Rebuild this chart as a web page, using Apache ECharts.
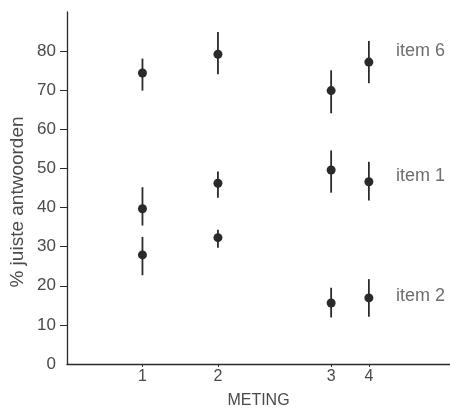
<!DOCTYPE html>
<html>
<head>
<meta charset="utf-8">
<script src="https://cdn.jsdelivr.net/npm/echarts@6/dist/echarts.min.js"></script>
<style>
  html, body { margin: 0; padding: 0; background: #fff; }
  #chart { width: 450px; height: 414px; }
</style>
</head>
<body>
<div id="chart"></div>
<script>
// measurement moments on a time-like scale, labelled 1..4
const metingX = [2, 4, 7, 8];
const metingLabels = ['1', '2', '3', '4'];
const yTicks = [0, 10, 20, 30, 40, 50, 60, 70, 80];

const item6Mean = [74.4, 79.2, 69.9, 77.2];
const item6Low = [69.9, 74.1, 64.1, 71.8];
const item6High = [78.1, 84.9, 75.1, 82.6];

const item1Mean = [39.7, 46.2, 49.6, 46.6];
const item1Low = [35.4, 42.5, 43.8, 41.8];
const item1High = [45.2, 49.2, 54.6, 51.7];

const item2Mean = [27.9, 32.3, 15.6, 16.9];
const item2Low = [22.7, 29.7, 11.9, 12.1];
const item2High = [32.5, 34.3, 19.5, 21.7];

const itemNames = ['item 6', 'item 1', 'item 2'];
const itemLabelY = [80, 48, 17.5];

const ink = '#2a2a2a';
const textColor = '#4a4a4a';
const font = 'Liberation Sans';

const chart = echarts.init(document.getElementById('chart'));

function points(mean) {
    return metingX.map((x, i) => [x, mean[i]]);
}
function bars(low, high) {
    return metingX.map((x, i) => [x, low[i], high[i]]);
}

function renderBar(params, api) {
    const top = api.coord([api.value(0), api.value(2)]);
    const bottom = api.coord([api.value(0), api.value(1)]);
    return {
        type: 'line',
        shape: { x1: top[0], y1: top[1], x2: bottom[0], y2: bottom[1] },
        style: { stroke: ink, lineWidth: 1.8 }
    };
}

const series = [];
[[item6Mean, item6Low, item6High], [item1Mean, item1Low, item1High], [item2Mean, item2Low, item2High]]
    .forEach(function (set) {
        series.push({
            type: 'custom',
            renderItem: renderBar,
            data: bars(set[1], set[2]),
            silent: true,
            z: 2
        });
        series.push({
            type: 'scatter',
            data: points(set[0]),
            symbolSize: 9,
            itemStyle: { color: ink, opacity: 1 },
            z: 3
        });
    });

// item labels sit to the right of the last measurement
series.push({
    type: 'scatter',
    data: itemNames.map((n, i) => ({ value: [8.72, itemLabelY[i]], name: n })),
    symbolSize: 0,
    label: {
        show: true,
        position: 'right',
        distance: 0,
        formatter: p => p.name,
        color: textColor,
        fontFamily: font,
        fontSize: 18
    },
    silent: true
});

chart.setOption({
    animation: false,
    backgroundColor: '#fff',
    grid: { left: 67, right: 0, top: 12, bottom: 46 },
    xAxis: {
        type: 'value',
        min: 0,
        max: 10.15,
        name: 'METING',
        nameLocation: 'middle',
        nameGap: 29,
        nameTextStyle: { color: textColor, fontFamily: font, fontSize: 16, padding: [0, 0, 0, 0] },
        axisLine: { show: true, lineStyle: { color: ink, width: 1.3 } },
        axisTick: { show: true, customValues: metingX, length: 3, lineStyle: { color: ink } },
        axisLabel: {
            customValues: metingX,
            formatter: v => metingLabels[metingX.indexOf(v)],
            color: textColor,
            fontFamily: font,
            fontSize: 16,
            margin: 5
        },
        splitLine: { show: false }
    },
    yAxis: {
        type: 'value',
        min: 0,
        max: 90,
        interval: 10,
        axisLine: { show: true, lineStyle: { color: ink, width: 1.3 } },
        axisTick: { show: true, customValues: yTicks.slice(1), length: 7, lineStyle: { color: ink } },
        axisLabel: {
            customValues: yTicks,
            color: textColor,
            fontFamily: font,
            fontSize: 17,
            margin: 11
        },
        splitLine: { show: false }
    },
    graphic: [{
        type: 'text',
        x: 18,
        y: 202,
        rotation: Math.PI / 2,
        style: {
            text: '% juiste antwoorden',
            fill: textColor,
            font: '19px "Liberation Sans"',
            textAlign: 'center',
            textVerticalAlign: 'middle'
        }
    }],
    series: series
});
</script>
</body>
</html>
